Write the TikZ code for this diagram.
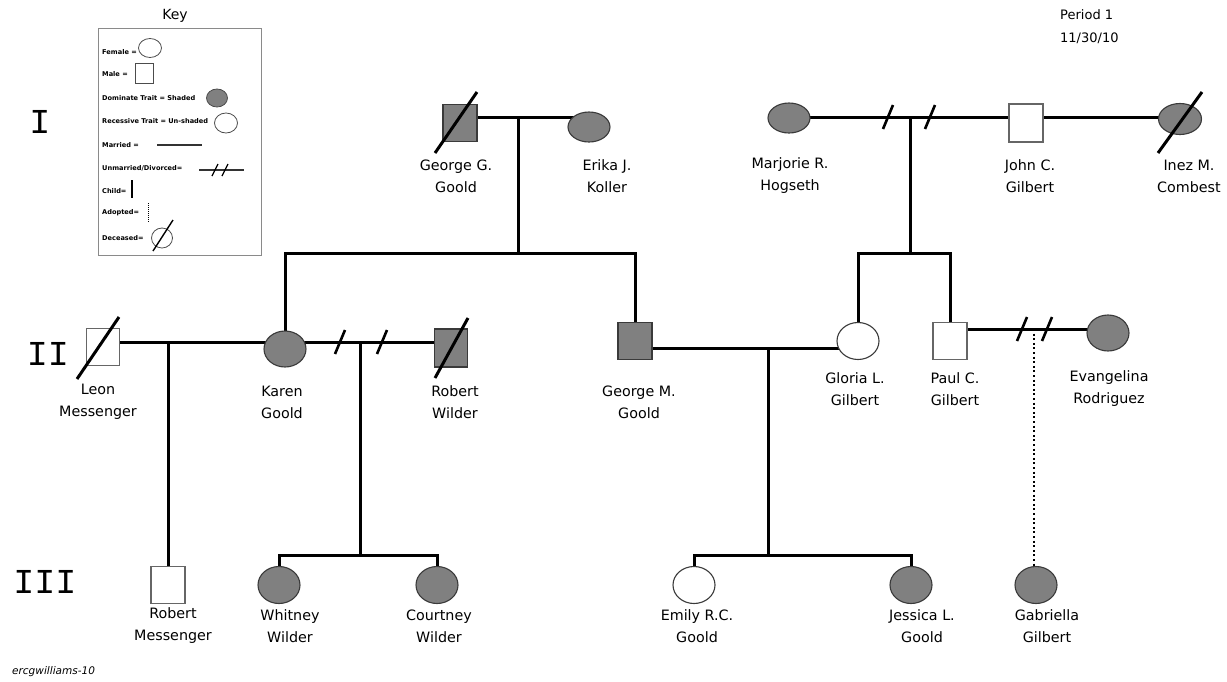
\documentclass[tikz,border=0pt]{standalone}
\usepackage{fontspec}
\setmainfont{DejaVu Sans}
\newfontfamily\romfont{Liberation Mono}
\usetikzlibrary{shapes.geometric,backgrounds}
\definecolor{shade}{HTML}{808080}
\definecolor{edge}{HTML}{3A3A3A}
\definecolor{boxgray}{HTML}{8A8A8A}
\begin{document}
\begin{tikzpicture}[x=1pt,y=-1pt,
  person/.style={draw=edge,line width=1.1pt,fill=white,inner sep=0pt},
  fem/.style={person,ellipse,minimum width=42pt,minimum height=37pt},
  flatfem/.style={fem,minimum height=31pt},
  mal/.style={person,rectangle,minimum width=34pt,minimum height=37pt,draw=black!60},
  aff/.style={fill=shade,draw=edge},
  link/.style={line width=3pt},
  adoptline/.style={line width=2.4pt,dash pattern=on 2pt off 2.6pt},
  slashline/.style={line width=2.6pt},
  deadline/.style={line width=3pt},
  pname/.style={align=center,font=\fontsize{14.3}{22}\selectfont,inner sep=0pt},
  genlbl/.style={font=\romfont\fontsize{35}{35}\selectfont,inner sep=0pt},
  keytxt/.style={anchor=west,font=\bfseries\fontsize{6.6}{7}\selectfont,inner sep=0pt},
  keyshape/.style={draw=black!70,line width=0.8pt,inner sep=0pt},
]
\useasboundingbox (0,0) rectangle (1227,681);

% ---------- Generation I ----------
\node[mal,aff] (GG) at (460,123) {};
\node[flatfem,aff,minimum height=30pt] (EK) at (589,127) {};
\node[flatfem,aff,minimum height=30pt] (MH) at (789,118) {};
\node[mal,minimum height=38pt] (JG) at (1026,123) {};
\node[flatfem,aff,minimum width=43pt] (IC) at (1180,119) {};

% ---------- Generation II ----------
\node[mal,minimum width=33pt] (LM) at (103,347) {};
\node[fem,aff,minimum height=36pt] (KG) at (285,349) {};
\node[mal,aff,minimum width=33pt,minimum height=38pt] (RW) at (451,348) {};
\node[mal,aff] (GM) at (635,341) {};
\node[fem] (GL) at (858,341) {};
\node[mal] (PG) at (950,341) {};
\node[fem,aff,minimum height=36pt] (ER) at (1108,333) {};

% ---------- Generation III ----------
\node[mal] (RM) at (168,585) {};
\node[fem,aff] (WW) at (279,585) {};
\node[fem,aff] (CW) at (437,585) {};
\node[fem] (EG) at (694,585) {};
\node[fem,aff] (JL) at (911,585) {};
\node[fem,aff] (GB) at (1036,585) {};

% ---------- coordinates of couple lines ----------
\coordinate (c1) at (518,117);
\coordinate (s1) at (518,253);
\coordinate (c2) at (910,117);
\coordinate (s2) at (910,253);
\coordinate (c3) at (168,342);
\coordinate (c4) at (360,342);
\coordinate (s4) at (360,555);
\coordinate (c5) at (768,348);
\coordinate (s5) at (768,555);
\coordinate (c6) at (1034,329);
\coordinate (d1) at (888,117);
\coordinate (d2) at (930,117);
\coordinate (d3) at (340,342);
\coordinate (d4) at (382,342);
\coordinate (d5) at (1022,329);
\coordinate (d6) at (1047,329);

\begin{pgfonlayer}{background}
  \fill[white] (0,0) rectangle (1227,681);
  % couples
  \draw[link] (GG.center |- c1) -- (EK.center |- c1);
  \draw[link] (MH.center |- c2) -- (IC.center |- c2);
  \draw[link] (LM.center |- c3) -- (RW.center |- c3);
  \draw[link] (GM.center |- c5) -- (GL.center |- c5);
  \draw[link] (PG.center |- c6) -- (ER.center |- c6);
  % descents
  \draw[link] (c1) -- (s1);
  \draw[link] (KG.center) -- (KG.center |- s1) -- (GM.center |- s1) -- (GM.center);
  \draw[link] (c2) -- (s2);
  \draw[link] (GL.center) -- (GL.center |- s2) -- (PG.center |- s2) -- (PG.center);
  \draw[link] (c3) -- (RM.center);
  \draw[link] (c4) -- (s4);
  \draw[link] (WW.center) -- (WW.center |- s4) -- (CW.center |- s4) -- (CW.center);
  \draw[link] (c5) -- (s5);
  \draw[link] (EG.center) -- (EG.center |- s5) -- (JL.center |- s5) -- (JL.center);
\end{pgfonlayer}
\draw[adoptline] (c6) -- (c6 |- GB.north);

% divorce slashes
\foreach \d in {d1,d2,d3,d4,d5,d6}
  \draw[slashline] ([shift={(-5,12)}]\d) -- ([shift={(5,-12)}]\d);

% deceased slashes
\draw[deadline] ([shift={(-25,30)}]GG.center) -- ([shift={(17,-31)}]GG.center);
\draw[deadline] ([shift={(-22,34)}]IC.center) -- ([shift={(22,-27)}]IC.center);
\draw[deadline] ([shift={(-26,32)}]LM.center) -- ([shift={(16,-30)}]LM.center);
\draw[deadline] ([shift={(-16,30)}]RW.center) -- ([shift={(17,-30)}]RW.center);

% ---------- names ----------
\node[pname] (nGG) at (456,176) {George G.\\Goold};
\node[pname] (nEK) at (607,176) {Erika J.\\Koller};
\node[pname] (nMH) at (790,176) {Marjorie R.\\Hogseth};
\node[pname] (nJG) at (1030,176) {John C.\\Gilbert};
\node[pname] (nIC) at (1189,176) {Inez M.\\Combest};

\node[pname] (nLM) at (98,402) {Leon\\Messenger};
\node[pname] (nKG) at (282,402) {Karen\\Goold};
\node[pname] (nRW) at (455,402) {Robert\\Wilder};
\node[pname] (nGM) at (639,402) {George M.\\Goold};
\node[pname] (nGL) at (855,389) {Gloria L.\\Gilbert};
\node[pname] (nPG) at (955,389) {Paul C.\\Gilbert};
\node[pname] (nER) at (1109,389) {Evangelina\\Rodriguez};

\node[pname] (nRM) at (173,626) {Robert\\Messenger};
\node[pname] (nWW) at (290,626) {Whitney\\Wilder};
\node[pname] (nCW) at (439,626) {Courtney\\Wilder};
\node[pname] (nEG) at (697,626) {Emily R.C.\\Goold};
\node[pname] (nJL) at (922,626) {Jessica L.\\Goold};
\node[pname] (nGB) at (1047,626) {Gabriella\\Gilbert};

% generation numerals
\node[genlbl] (gI) at (40,122) {I};
\node[genlbl] (gII) at (48,354) {II};
\node[genlbl] (gIII) at (45,582) {III};

% period / date
\node[anchor=west,align=left,font=\fontsize{13}{23}\selectfont,inner sep=0pt] (per) at (1060,27) {Period 1\\11/30/10};

% footer
\node[anchor=west,font=\itshape\fontsize{10.5}{12}\selectfont,inner sep=0pt] (foot) at (12,672) {ercgwilliams-10};

% ---------- key ----------
\node[font=\fontsize{14}{16}\selectfont,inner sep=0pt] (keyT) at (175,16) {Key};
\draw[draw=boxgray,line width=0.9pt] (98,28) rectangle (261,255);
\node[keytxt] (k1) at (102,52) {Female =};
\node[keyshape,ellipse,minimum width=23pt,minimum height=19pt] (k1s) at (150,48) {};
\node[keytxt] (k2) at (102,74) {Male =};
\node[keyshape,rectangle,minimum width=18pt,minimum height=20pt] (k2s) at (144,73) {};
\node[keytxt] (k3) at (102,98) {Dominate Trait = Shaded};
\node[keyshape,ellipse,fill=shade,minimum width=21pt,minimum height=18pt] (k3s) at (217,98) {};
\node[keytxt] (k4) at (102,121) {Recessive Trait = Un-shaded};
\node[keyshape,ellipse,minimum width=23pt,minimum height=20pt] (k4s) at (226,123) {};
\node[keytxt] (k5) at (102,145) {Married =};
\coordinate (k5a) at (157,145);
\coordinate (k5b) at (202,145);
\draw[line width=1.4pt,black!80] (k5a) -- (k5b);
\node[keytxt] (k6) at (102,168) {Unmarried/Divorced=};
\coordinate (k6a) at (199,170);
\coordinate (k6b) at (244,170);
\coordinate (k6c) at (215,170);
\coordinate (k6d) at (225,170);
\draw[line width=1.4pt,black!80] (k6a) -- (k6b);
\foreach \d in {k6c,k6d}
  \draw[line width=1.2pt] ([shift={(-3,6)}]\d) -- ([shift={(3,-6)}]\d);
\node[keytxt] (k7) at (102,191) {Child=};
\coordinate (k7a) at (132,180);
\coordinate (k7b) at (132,198);
\draw[line width=1.6pt] (k7a) -- (k7b);
\node[keytxt] (k8) at (102,213) {Adopted=};
\coordinate (k8a) at (148,203);
\coordinate (k8b) at (148,222);
\draw[line width=1pt,dash pattern=on 1pt off 1pt] (k8a) -- (k8b);
\node[keytxt] (k9) at (102,238) {Deceased=};
\node[keyshape,ellipse,minimum width=21pt,minimum height=20pt] (k9s) at (162,238) {};
\draw[line width=1.4pt] ([shift={(-9,13)}]k9s.center) -- ([shift={(11,-18)}]k9s.center);
\end{tikzpicture}
\end{document}
